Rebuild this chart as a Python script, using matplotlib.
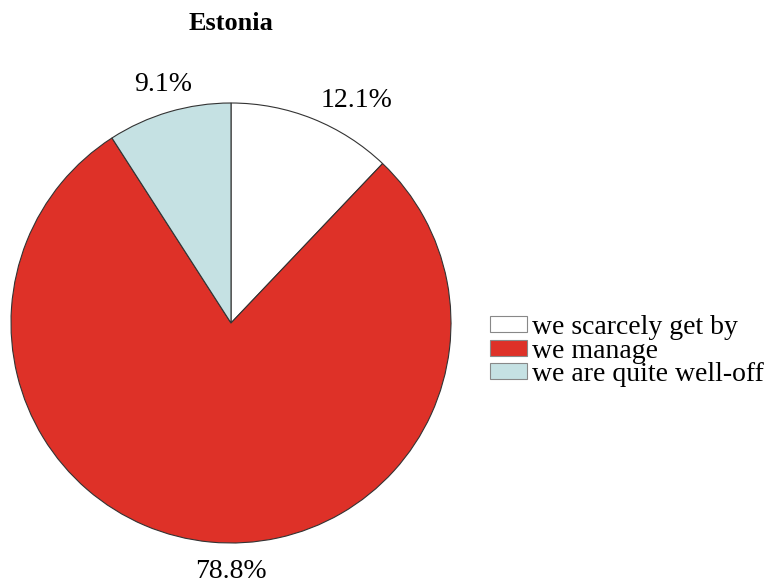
import matplotlib
matplotlib.use("Agg")
import matplotlib.pyplot as plt
import numpy as np

title = "Estonia"
categories = ["we scarcely get by", "we manage", "we are quite well-off"]
values = [12.1, 78.8, 9.1]
colors = ["#FFFFFF", "#DE3128", "#C5E1E3"]

plt.rcParams['font.family'] = ['Liberation Serif', 'DejaVu Serif']

fig = plt.figure(figsize=(7.77, 5.83), dpi=100)
W, H = 777, 583
cx, cy, r = 231, 323, 220
ax = fig.add_axes([(cx - r) / W, (H - cy - r) / H, 2 * r / W, 2 * r / H])

wedges, texts = ax.pie(values, colors=colors, startangle=90, counterclock=False,
                       radius=1.0,
                       wedgeprops=dict(edgecolor="#333333", linewidth=0.8))
ax.set_xlim(-1, 1)
ax.set_ylim(-1, 1)
ax.set_aspect('equal')
ax.axis('off')

# label positions (layout, in axes data units)
label_pos = [(0.57, 1.01), (0.0, -1.13), (-0.31, 1.085)]
for (x, y), v in zip(label_pos, values):
    ax.text(x, y, f"{v:.1f}%", ha='center', va='center', fontsize=20, clip_on=False)

fig.text(cx / W, 1 - 23 / H, title, ha='center', va='center', fontsize=19, fontweight='bold')

leg = fig.legend(wedges, categories, loc='center left', bbox_to_anchor=(482 / W, 1 - 351 / H),
                 frameon=False, fontsize=20, handlelength=1.33, handleheight=0.5,
                 handletextpad=0.18, labelspacing=-0.05, borderpad=0.0, borderaxespad=0.3)
for p in leg.get_patches():
    p.set_edgecolor("#888888")
    p.set_linewidth(0.8)

fig.savefig("out.png", dpi=100)
